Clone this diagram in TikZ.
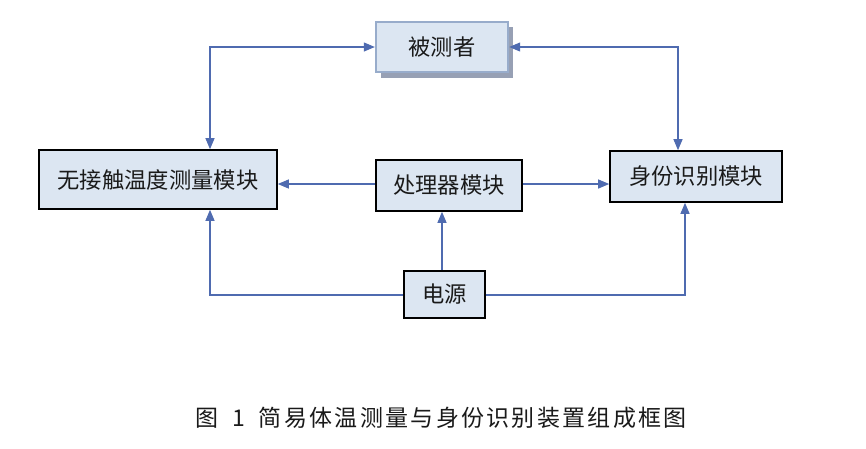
\documentclass[tikz,border=0pt]{standalone}
\usepackage{fontspec}
\usetikzlibrary{arrows.meta,positioning}
\newfontfamily\cjk{Noto Sans CJK SC}
\newfontfamily\cjkcap[LetterSpace=10]{Noto Sans CJK SC}
\definecolor{boxfill}{HTML}{DCE6F2}
\definecolor{linkc}{HTML}{4F6BB0}
\definecolor{topborder}{HTML}{98ACCB}
\definecolor{shadowc}{HTML}{97A0B4}
\definecolor{txt}{HTML}{1A1A1A}
\tikzset{
  blk/.style={draw=black, line width=1.6pt, fill=boxfill, inner sep=0pt, text=txt,
    font=\cjk\fontsize{22.3}{25}\selectfont},
  link/.style={draw=linkc, line width=1.1pt, -{Triangle[length=11pt,width=9pt]}},
  blink/.style={draw=linkc, line width=1.1pt, {Triangle[length=11pt,width=9pt]}-{Triangle[length=11pt,width=9pt]}}
}
\begin{document}
\begin{tikzpicture}[x=1pt,y=-1pt]
\useasboundingbox[fill=white] (0,0) rectangle (866,448);
% shadow of top box
\fill[shadowc] (381,27) rectangle (513,78);
\node[blk, draw=topborder, line width=2.4pt, minimum width=132pt, minimum height=50pt] (subj) at (442,47) {被测者};
\node[blk, minimum width=238pt, minimum height=59pt] (temp) at (158,179.5) {无接触温度测量模块};
\node[blk, minimum width=146pt, minimum height=51pt] (cpu) at (449,185.5) {处理器模块};
\node[blk, minimum width=172pt, minimum height=51pt] (ident) at (696,176.5) {身份识别模块};
\node[blk, minimum width=81pt, minimum height=47pt] (pwr) at (444.5,294.5) {电源};
\coordinate (tl) at (210,47);
\coordinate (tr) at (678,47);
\coordinate (bl) at (210,295);
\coordinate (br) at (685,295);
\draw[blink] (subj.west) -- (tl) -- (temp.north -| tl);
\draw[blink] (subj.east) -- (tr) -- (ident.north -| tr);
\draw[link] (cpu.west |- 0,184) -- (temp.east |- 0,184);
\draw[link] (cpu.east |- 0,184) -- (ident.west |- 0,184);
\draw[link] (pwr.north -| 442,0) -- (cpu.south -| 442,0);
\draw[link] (pwr.west |- bl) -- (bl) -- (temp.south -| bl);
\draw[link] (pwr.east |- br) -- (br) -- (ident.south -| br);
\node[text=txt, font=\cjkcap\fontsize{23}{26}\selectfont, anchor=center, inner sep=0pt] (cap) at (441,418) {图\kern14pt\relax 1\kern14pt\relax 简易体温测量与身份识别装置组成框图};
\end{tikzpicture}
\end{document}
